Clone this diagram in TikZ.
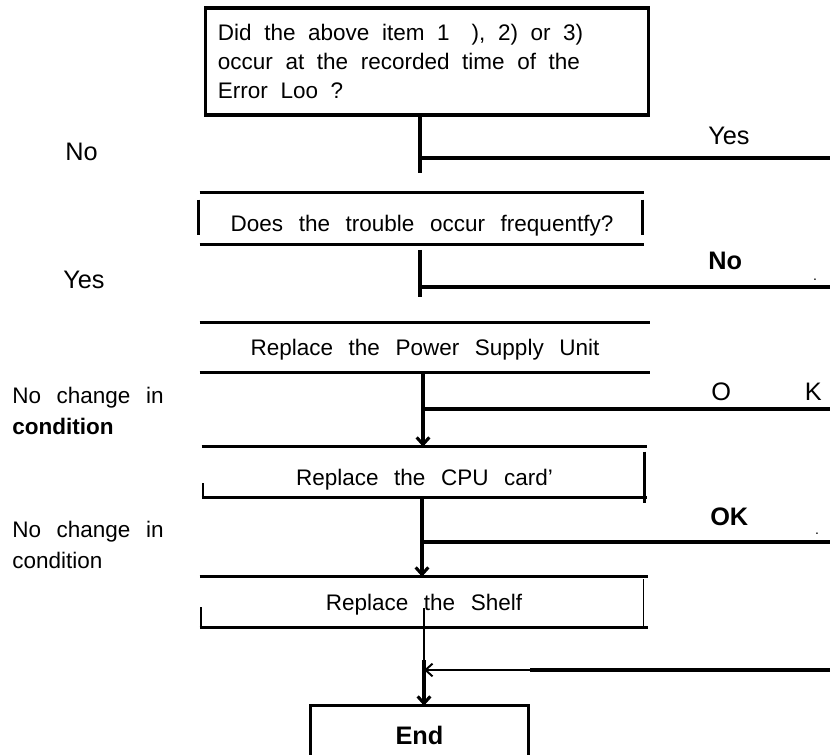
\documentclass[tikz,border=0pt]{standalone}
\usepackage{fontspec}
\setmainfont{Liberation Sans}[WordSpace=2.5]
\usetikzlibrary{arrows.meta}

\newcommand{\stepfont}{\fontsize{16}{20.5}\selectfont}
\newcommand{\markfont}{\fontsize{18}{22}\selectfont}

\begin{document}
\begin{tikzpicture}[x=0.025cm,y=-0.025cm,
    rule/.style={line width=2.2pt},
    hair/.style={line width=0.8pt},
    flow/.style={line width=2.2pt,-{Straight Barb[length=5pt,width=9pt]}},
    stepbox/.style={inner sep=0pt,text height=11.5pt,text depth=0pt,font=\stepfont},
    answer/.style={anchor=west,inner sep=0pt,font=\markfont},
    remark/.style={anchor=west,inner sep=0pt,align=left,font=\fontsize{16}{22}\selectfont}]
  \useasboundingbox (0,0) rectangle (830,755);

  % first question
  \node[draw,rule,inner xsep=0.3cm,inner ysep=0pt,text width=10.45cm,align=left,
        minimum height=2.675cm,font=\stepfont] (q1) at (427,61.5)
    {\spaceskip=0.56em\relax Did the above item 1\hspace{0.55cm}), 2) or 3)\\occur at the recorded time of the\\Error Loo ?};
  \coordinate (j1) at (420,158);
  \coordinate (e1) at (420,173);
  \coordinate (y1) at (830,158);
  \draw[rule] (q1.south -| j1) -- (e1);
  \draw[rule] (j1) -- (y1);
  \node[answer] (no1) at (65,152) {No};
  \node[answer] (yes1) at (708,136) {Yes};

  % second question
  \node[stepbox,minimum width=11.1cm,minimum height=1.275cm,text height=18pt] (q2) at (422,218.5)
    {Does the trouble occur frequentfy?};
  \draw[rule] (q2.north west) -- (q2.north east);
  \draw[rule] (q2.south west) -- (q2.south east);
  \draw[rule] (q2.north west) ++(-1,7) -- ++(0,35);
  \draw[rule] (q2.north east) ++(-2,7) -- ++(0,35);
  \coordinate (s2) at (420,250);
  \coordinate (e2) at (420,297);
  \coordinate (j2) at (420,287);
  \coordinate (y2) at (830,287);
  \draw[rule] (s2) -- (e2);
  \draw[rule] (j2) -- (y2);
  \node[answer] (yes2) at (63,280) {Yes};
  \node[answer,font=\markfont\bfseries] (no2) at (708,261) {No};
  \node[inner sep=0pt] (dot2) at (815,280) {.};

  % power supply
  \node[stepbox,minimum width=11.25cm,minimum height=1.225cm] (a1) at (425,347.5)
    {Replace the Power Supply Unit};
  \draw[rule] (a1.north west) -- (a1.north east);
  \draw[rule] (a1.south west) -- (a1.south east);

  % cpu card
  \node[stepbox,minimum width=11.125cm,minimum height=1.25cm,text height=18.5pt] (a2) at (424.5,472)
    {Replace the CPU card'};
  \draw[rule] (a2.north west) -- (a2.north east);
  \draw[rule] (a2.south west) -- (a2.south east);
  \draw[rule] (a2.north east) ++(-3,5) -- ++(0,51);
  \draw[line width=1.4pt] (a2.south west) ++(1,0) -- ++(0,-14);
  \coordinate (j3) at (423,409);
  \coordinate (y3) at (830,409);
  \draw[flow] (a1.south -| j3) -- (a2.north -| j3);
  \draw[rule] (j3) -- (y3);
  \node[answer] (ok3) at (711,392) {O\hspace{1.85cm}K};
  \node[remark] (nc3) at (12,411) {No change in\\\textbf{condition}};

  % shelf
  \node[stepbox,minimum width=11.2cm,minimum height=1.25cm] (a3) at (424,602)
    {Replace the Shelf};
  \draw[rule] (a3.north west) -- (a3.north east);
  \draw[rule] (a3.south west) -- (a3.south east);
  \draw[hair] (a3.south east) ++(-5,0) -- ++(0,-48);
  \draw[line width=1.2pt] (a3.south west) ++(1,0) -- ++(0,-20);
  \coordinate (j4) at (422,542);
  \coordinate (y4) at (830,542);
  \draw[flow] (a2.south -| j4) -- (a3.north -| j4);
  \draw[rule] (j4) -- (y4);
  \node[answer,font=\markfont\bfseries] (ok4) at (710,517) {OK};
  \node[inner sep=0pt] (dot4) at (817,534) {.};
  \node[remark] (nc4) at (12,545) {No change in\\condition};

  % end
  \node[stepbox,minimum width=5.425cm,minimum height=1.225cm,font=\markfont\bfseries,
        text height=19.3pt] (fin) at (419.5,730.5) {End};
  \draw[rule] (fin.south west) -- (fin.north west) -- (fin.north east) -- (fin.south east);
  \coordinate (s5) at (424,608);
  \coordinate (m5) at (424,660);
  \coordinate (k5) at (530,670);
  \coordinate (y5) at (830,670);
  \draw[hair] (s5) -- (m5);
  \draw[flow] (m5) -- (fin.north -| m5);
  \draw[rule] (y5) -- (k5);
  \draw[line width=1.4pt,-{Straight Barb[length=5pt,width=9pt]}] (k5) -- (k5 -| m5);
\end{tikzpicture}
\end{document}
